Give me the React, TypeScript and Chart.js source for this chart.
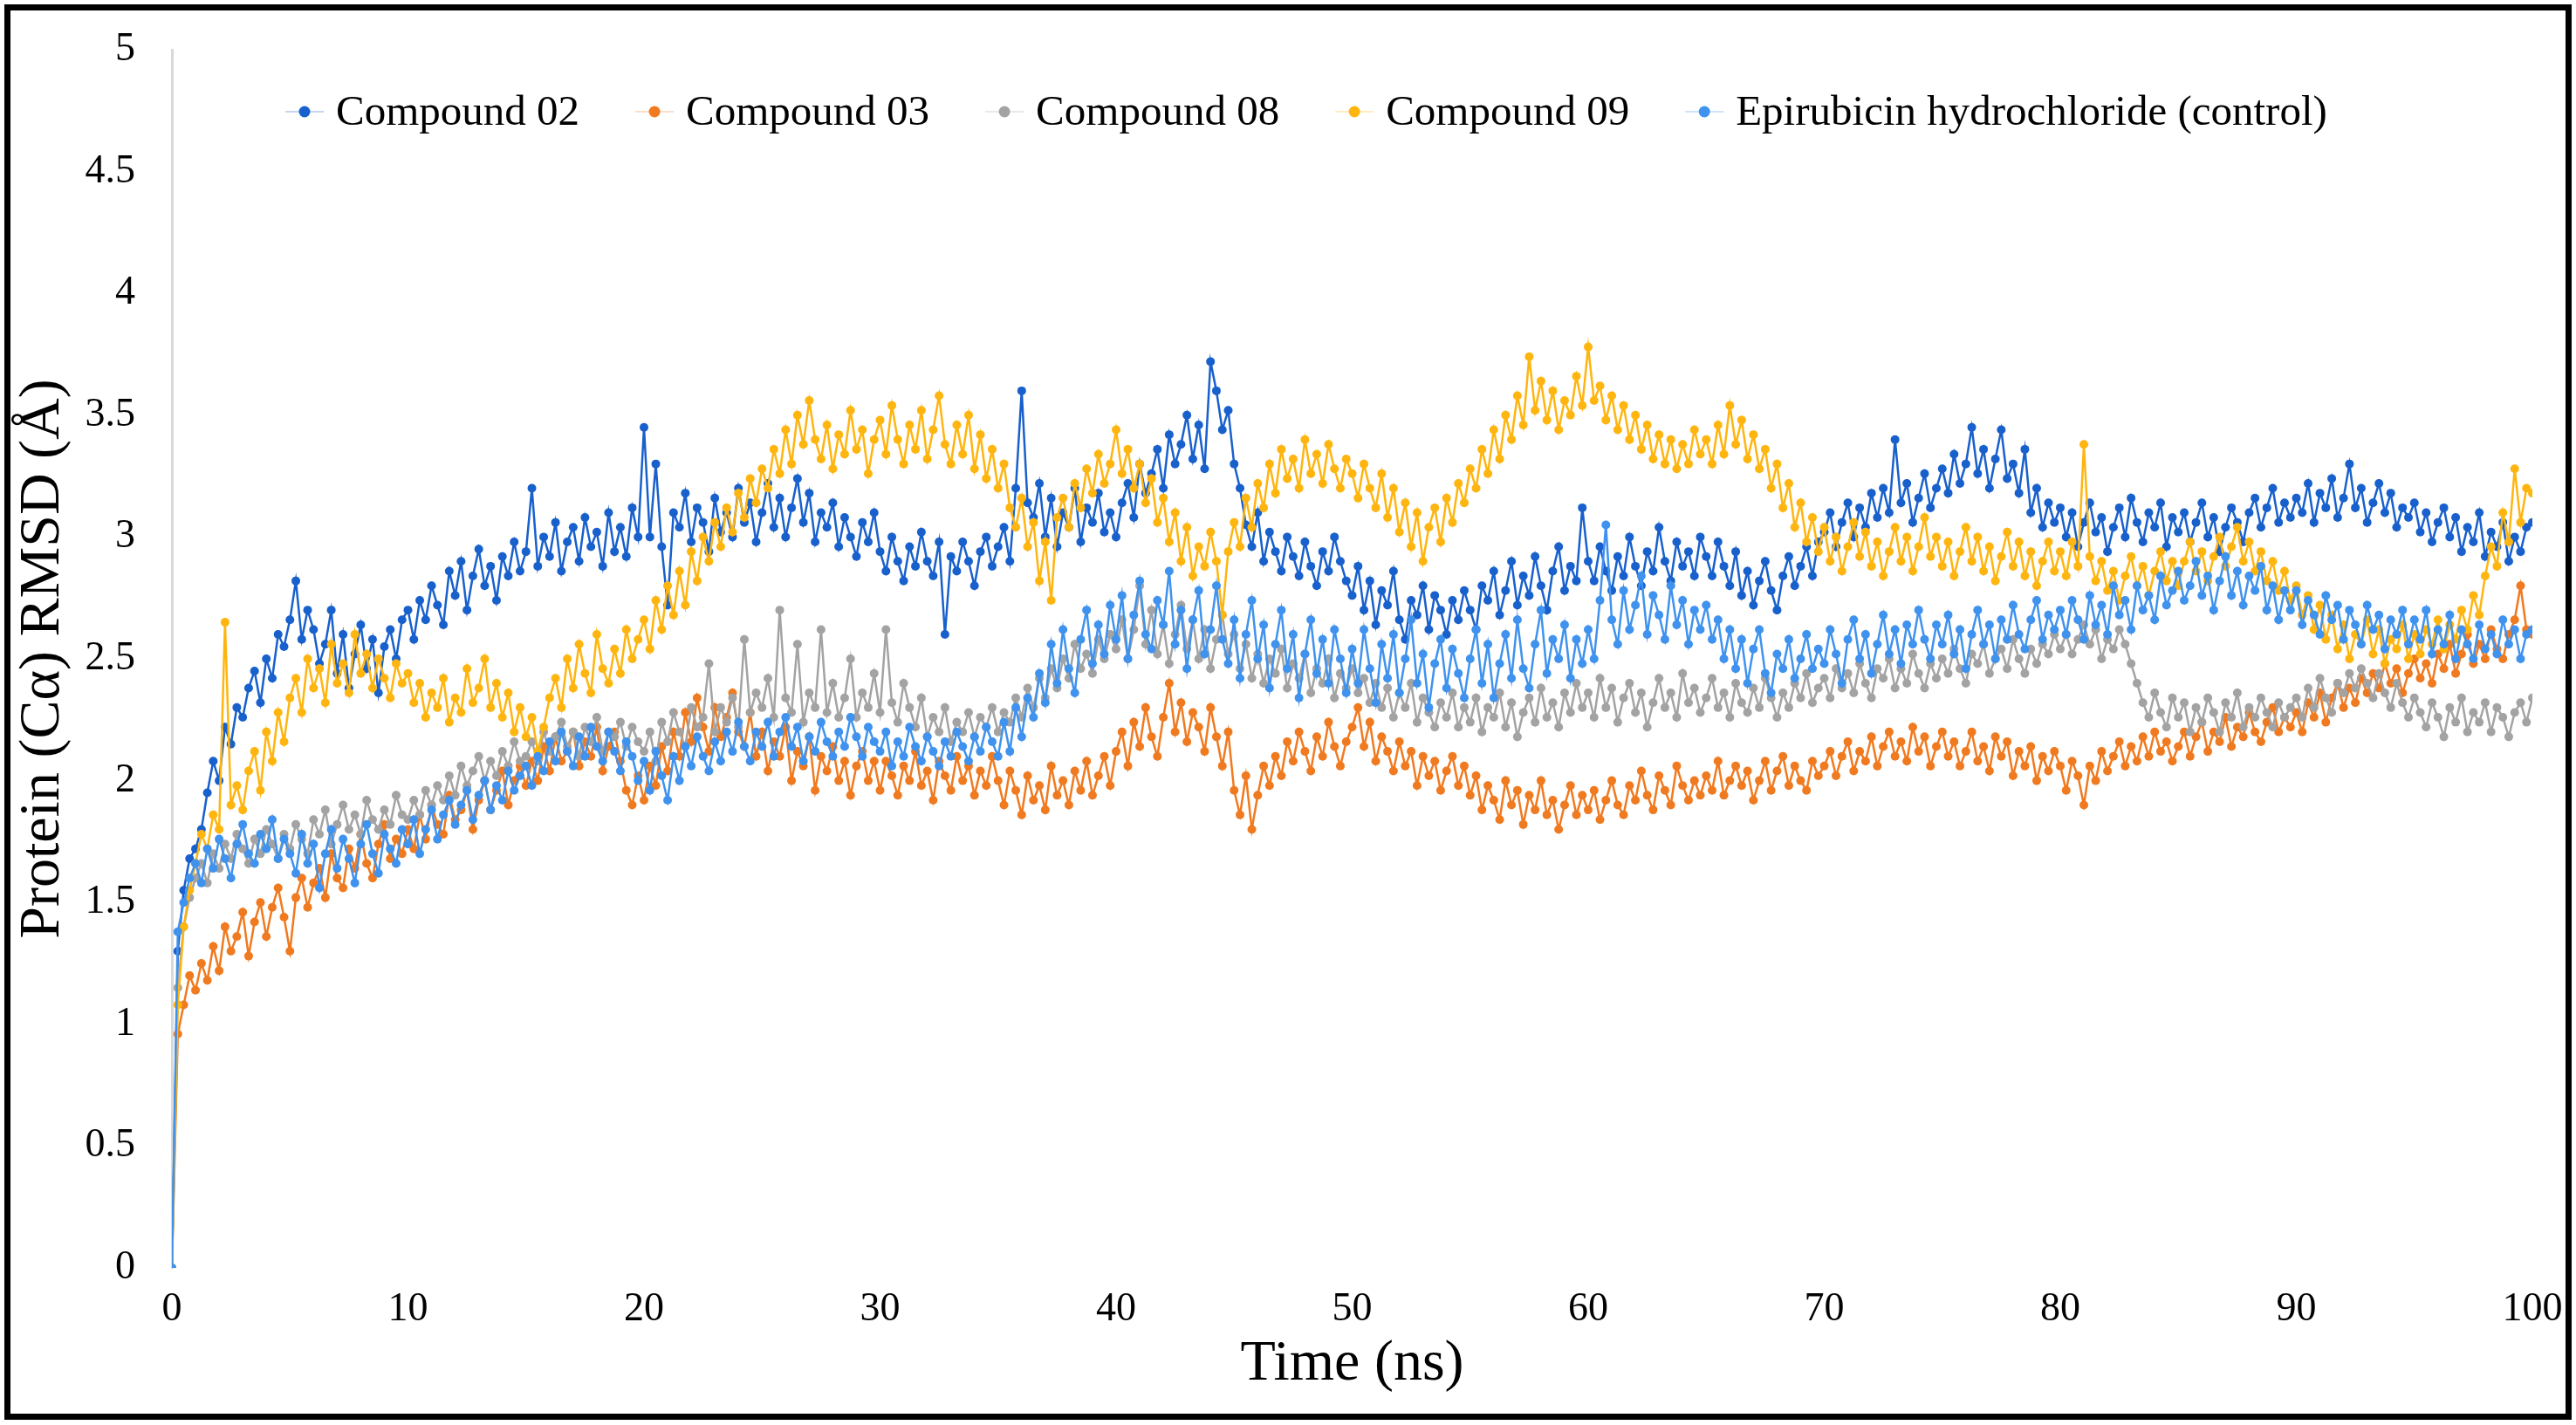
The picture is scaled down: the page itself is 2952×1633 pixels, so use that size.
import { useEffect, useRef } from "react"
import { Chart, registerables } from "chart.js"

Chart.register(...registerables)

// sampling times (ns), one frame every 0.25 ns
const TIME_NS = Array.from({ length: 401 }, (_, i) => i * 0.25)

const SERIES_NAMES = ["Compound 02", "Compound 03", "Compound 08", "Compound 09", "Epirubicin hydrochloride (control)"]
const SERIES_COLORS = ["#1860cc", "#f07a20", "#a3a3a3", "#ffb50f", "#3f92ee"]

// one row = 5 ns
const COMPOUND_02 = [
    0, 1.3, 1.55, 1.68, 1.72, 1.8, 1.95, 2.08, 2.0, 2.22, 2.15, 2.3, 2.26, 2.38, 2.45, 2.32, 2.5, 2.42, 2.6, 2.55,
    2.66, 2.82, 2.58, 2.7, 2.62, 2.48, 2.56, 2.7, 2.44, 2.6, 2.38, 2.52, 2.64, 2.46, 2.58, 2.36, 2.55, 2.62, 2.5, 2.66,
    2.7, 2.58, 2.74, 2.66, 2.8, 2.72, 2.64, 2.86, 2.76, 2.9, 2.7, 2.84, 2.95, 2.8, 2.88, 2.74, 2.92, 2.84, 2.98, 2.86,
    2.94, 3.2, 2.88, 3.0, 2.92, 3.06, 2.86, 2.98, 3.04, 2.9, 3.08, 2.96, 3.02, 2.88, 3.1, 2.94, 3.04, 2.92, 3.12, 3.0,
    3.45, 3.0, 3.3, 2.96, 2.72, 3.1, 3.04, 3.18, 2.98, 3.12, 3.06, 2.94, 3.16, 3.02, 3.1, 3.0, 3.2, 3.06, 3.14, 2.98,
    3.1, 3.22, 3.04, 3.16, 3.0, 3.12, 3.24, 3.06, 3.18, 2.98, 3.1, 3.04, 3.14, 2.96, 3.08, 3.0, 2.92, 3.06, 2.98, 3.1,
    2.94, 2.86, 3.0, 2.9, 2.82, 2.96, 2.88, 3.02, 2.9, 2.84, 2.98, 2.6, 2.92, 2.86, 2.98, 2.9, 2.8, 2.94, 3.0, 2.88,
    2.96, 3.04, 2.9, 3.2, 3.6, 3.14, 3.08, 3.22, 3.0, 3.16, 2.96, 3.1, 3.04, 3.2, 2.98, 3.12, 3.06, 3.18, 3.02, 3.1,
    3.0, 3.14, 3.22, 3.08, 3.3, 3.18, 3.26, 3.36, 3.2, 3.42, 3.3, 3.38, 3.5, 3.32, 3.46, 3.28, 3.72, 3.6, 3.44, 3.52,
    3.3, 3.2, 3.05, 2.96, 3.1, 2.9, 3.02, 2.94, 2.86, 3.0, 2.92, 2.84, 2.98, 2.88, 2.8, 2.94, 2.86, 3.0, 2.9, 2.82,
    2.76, 2.88, 2.7, 2.82, 2.64, 2.78, 2.72, 2.86, 2.66, 2.58, 2.74, 2.68, 2.8, 2.62, 2.76, 2.7, 2.6, 2.74, 2.66, 2.78,
    2.7, 2.62, 2.8, 2.74, 2.86, 2.68, 2.78, 2.9, 2.72, 2.84, 2.76, 2.92, 2.8, 2.7, 2.86, 2.96, 2.78, 2.88, 2.82, 3.12,
    2.9, 2.82, 2.96, 2.86, 2.78, 2.92, 2.84, 3.0, 2.88, 2.8, 2.94, 2.86, 3.04, 2.9, 2.82, 2.98, 2.88, 2.94, 2.84, 3.0,
    2.92, 2.84, 2.98, 2.88, 2.8, 2.94, 2.76, 2.86, 2.72, 2.82, 2.9, 2.78, 2.7, 2.84, 2.92, 2.8, 2.88, 2.96, 2.84, 2.98,
    3.02, 3.1, 2.96, 3.06, 3.14, 3.0, 3.12, 3.04, 3.18, 3.08, 3.2, 3.1, 3.4, 3.14, 3.22, 3.06, 3.16, 3.26, 3.12, 3.2,
    3.28, 3.18, 3.34, 3.22, 3.3, 3.45, 3.26, 3.36, 3.2, 3.32, 3.44, 3.24, 3.3, 3.18, 3.36, 3.1, 3.2, 3.04, 3.14, 3.06,
    3.12, 3.0, 3.1, 2.96, 3.06, 3.14, 3.02, 3.08, 2.94, 3.04, 3.12, 3.0, 3.16, 3.06, 2.98, 3.1, 3.04, 3.14, 2.96, 3.08,
    3.02, 3.1, 2.98, 3.06, 3.14, 3.0, 3.08, 2.94, 3.04, 3.12, 3.06, 2.98, 3.1, 3.16, 3.04, 3.12, 3.2, 3.06, 3.14, 3.08,
    3.16, 3.1, 3.22, 3.06, 3.18, 3.12, 3.24, 3.08, 3.16, 3.3, 3.12, 3.2, 3.06, 3.14, 3.22, 3.1, 3.18, 3.04, 3.12, 3.08,
    3.14, 3.02, 3.1, 2.98, 3.06, 3.12, 3.0, 3.08, 2.94, 3.04, 2.98, 3.1, 2.92, 3.02, 2.96, 3.06, 2.9, 3.0, 2.94, 3.04,
    3.06,
]

const COMPOUND_03 = [
    0, 0.96, 1.08, 1.2, 1.14, 1.25, 1.18, 1.32, 1.22, 1.4, 1.3, 1.36, 1.46, 1.28, 1.42, 1.5, 1.36, 1.48, 1.56, 1.44,
    1.3, 1.52, 1.6, 1.48, 1.58, 1.64, 1.52, 1.7, 1.6, 1.56, 1.72, 1.64, 1.78, 1.66, 1.6, 1.74, 1.82, 1.68, 1.76, 1.7,
    1.8, 1.72, 1.86, 1.76, 1.9, 1.82, 1.78, 1.94, 1.84, 1.88, 1.96, 1.8, 1.92, 2.0, 1.88, 1.96, 2.04, 1.9, 2.0, 2.06,
    1.98, 2.08, 2.0, 2.14, 2.04, 2.18, 2.08, 2.12, 2.2, 2.06, 2.16, 2.1, 2.22, 2.04, 2.14, 2.2, 2.08, 1.96, 1.9, 2.02,
    1.92, 2.06, 1.98, 2.14, 2.04, 2.2, 2.1, 2.28, 2.16, 2.34, 2.22, 2.12, 2.3, 2.18, 2.26, 2.36, 2.2, 2.14, 2.28, 2.1,
    2.2, 2.04, 2.16, 2.1, 2.22, 2.0, 2.12, 2.06, 2.18, 1.96, 2.1, 2.04, 2.14, 2.0, 2.08, 1.94, 2.06, 2.12, 2.0, 2.08,
    1.96, 2.08, 2.02, 1.94, 2.06, 2.0, 2.12, 1.98, 2.04, 1.92, 2.08, 2.02, 1.96, 2.1, 2.0, 2.06, 1.94, 2.04, 1.98, 2.1,
    2.0, 1.9, 2.04, 1.96, 1.86, 2.02, 1.92, 1.98, 1.88, 2.06, 1.94, 2.0, 1.9, 2.04, 1.96, 2.08, 1.94, 2.02, 2.1, 1.98,
    2.12, 2.2, 2.06, 2.24, 2.14, 2.3, 2.18, 2.1, 2.26, 2.4, 2.2, 2.32, 2.16, 2.28, 2.22, 2.12, 2.3, 2.18, 2.06, 2.2,
    1.96, 1.86, 2.02, 1.8, 1.94, 2.06, 1.98, 2.1, 2.02, 2.16, 2.08, 2.2, 2.12, 2.04, 2.18, 2.1, 2.24, 2.14, 2.06, 2.16,
    2.22, 2.3, 2.14, 2.24, 2.08, 2.18, 2.12, 2.04, 2.16, 2.06, 2.12, 1.98, 2.1, 2.02, 2.08, 1.96, 2.04, 2.1, 1.98, 2.06,
    1.94, 2.02, 1.88, 1.98, 1.92, 1.84, 2.0, 1.9, 1.96, 1.82, 1.94, 1.88, 2.0, 1.86, 1.92, 1.8, 1.9, 1.98, 1.86, 1.94,
    1.88, 1.96, 1.84, 1.92, 2.0, 1.9, 1.86, 1.98, 1.92, 2.04, 1.94, 1.88, 2.02, 1.96, 1.9, 2.06, 1.98, 1.92, 2.0, 1.94,
    2.02, 1.96, 2.08, 1.94, 2.0, 2.06, 1.98, 2.04, 1.92, 2.0, 2.08, 1.96, 2.04, 2.1, 1.98, 2.06, 2.0, 1.96, 2.08, 2.02,
    2.06, 2.12, 2.02, 2.1, 2.16, 2.04, 2.12, 2.08, 2.18, 2.06, 2.14, 2.2, 2.1, 2.16, 2.08, 2.22, 2.12, 2.18, 2.06, 2.14,
    2.2, 2.1, 2.16, 2.06, 2.12, 2.2, 2.08, 2.14, 2.04, 2.18, 2.1, 2.16, 2.02, 2.12, 2.06, 2.14, 2.0, 2.1, 2.04, 2.12,
    2.06, 1.96, 2.08, 2.02, 1.9, 2.06, 2.0, 2.12, 2.04, 2.1, 2.16, 2.06, 2.14, 2.08, 2.18, 2.1, 2.2, 2.12, 2.16, 2.08,
    2.14, 2.2, 2.1, 2.18, 2.24, 2.12, 2.2, 2.16, 2.26, 2.14, 2.22, 2.18, 2.28, 2.2, 2.16, 2.24, 2.3, 2.2, 2.26, 2.22,
    2.28, 2.2, 2.32, 2.26, 2.36, 2.24, 2.34, 2.4, 2.3, 2.38, 2.32, 2.42, 2.36, 2.44, 2.38, 2.48, 2.4, 2.46, 2.36, 2.44,
    2.5, 2.42, 2.48, 2.4, 2.52, 2.46, 2.56, 2.44, 2.52, 2.6, 2.48, 2.56, 2.5, 2.62, 2.54, 2.5, 2.6, 2.66, 2.8, 2.62,
    2.6,
]

const COMPOUND_08 = [
    0, 1.15, 1.4, 1.52, 1.6, 1.66, 1.58, 1.7, 1.64, 1.74, 1.68, 1.78, 1.72, 1.66, 1.76, 1.7, 1.8, 1.74, 1.68, 1.78,
    1.72, 1.82, 1.76, 1.7, 1.84, 1.78, 1.88, 1.74, 1.82, 1.9, 1.8, 1.86, 1.78, 1.92, 1.84, 1.8, 1.88, 1.82, 1.94, 1.86,
    1.84, 1.92, 1.86, 1.96, 1.9, 1.98, 1.92, 2.02, 1.94, 2.06, 1.98, 2.04, 2.1, 2.0, 2.08, 2.02, 2.12, 2.06, 2.16, 2.08,
    2.1, 2.16, 2.08, 2.2, 2.12, 2.18, 2.24, 2.14, 2.2, 2.1, 2.22, 2.16, 2.26, 2.12, 2.2, 2.18, 2.24, 2.14, 2.22, 2.16,
    2.12, 2.2, 2.08, 2.24, 2.16, 2.28, 2.2, 2.14, 2.3, 2.22, 2.26, 2.48, 2.2, 2.3, 2.24, 2.34, 2.22, 2.58, 2.28, 2.36,
    2.3, 2.42, 2.26, 2.7, 2.34, 2.28, 2.56, 2.24, 2.36, 2.3, 2.62, 2.28, 2.4, 2.26, 2.34, 2.5, 2.26, 2.36, 2.3, 2.44,
    2.28, 2.62, 2.32, 2.24, 2.4, 2.3, 2.22, 2.34, 2.18, 2.26, 2.2, 2.3, 2.16, 2.24, 2.2, 2.28, 2.18, 2.26, 2.22, 2.3,
    2.2, 2.28, 2.24, 2.34, 2.26, 2.38, 2.3, 2.42, 2.34, 2.46, 2.38, 2.5, 2.42, 2.56, 2.46, 2.52, 2.44, 2.58, 2.5, 2.6,
    2.54, 2.66, 2.5, 2.62, 2.8, 2.56, 2.7, 2.52, 2.64, 2.48, 2.6, 2.72, 2.54, 2.66, 2.5, 2.62, 2.46, 2.58, 2.68, 2.52,
    2.6, 2.46, 2.56, 2.42, 2.52, 2.4, 2.5, 2.44, 2.54, 2.38, 2.48, 2.42, 2.52, 2.36, 2.46, 2.4, 2.5, 2.34, 2.44, 2.38,
    2.46, 2.36, 2.42, 2.32, 2.4, 2.3, 2.38, 2.26, 2.36, 2.3, 2.4, 2.24, 2.34, 2.28, 2.22, 2.32, 2.26, 2.36, 2.22, 2.3,
    2.24, 2.34, 2.2, 2.3, 2.26, 2.36, 2.22, 2.32, 2.18, 2.28, 2.34, 2.24, 2.38, 2.26, 2.32, 2.22, 2.36, 2.28, 2.4, 2.3,
    2.36, 2.26, 2.42, 2.3, 2.38, 2.24, 2.34, 2.4, 2.28, 2.36, 2.22, 2.32, 2.42, 2.3, 2.36, 2.26, 2.44, 2.32, 2.38, 2.28,
    2.34, 2.42, 2.3, 2.36, 2.26, 2.4, 2.32, 2.28, 2.38, 2.3, 2.42, 2.34, 2.26, 2.36, 2.3, 2.4, 2.34, 2.44, 2.32, 2.38,
    2.42, 2.34, 2.46, 2.38, 2.44, 2.36, 2.48, 2.4, 2.34, 2.46, 2.42, 2.5, 2.38, 2.46, 2.4, 2.52, 2.44, 2.38, 2.48, 2.42,
    2.5, 2.44, 2.54, 2.46, 2.4, 2.52, 2.48, 2.56, 2.44, 2.5, 2.54, 2.46, 2.58, 2.5, 2.44, 2.54, 2.48, 2.56, 2.52, 2.6,
    2.54, 2.6, 2.52, 2.58, 2.64, 2.56, 2.62, 2.5, 2.58, 2.54, 2.62, 2.56, 2.48, 2.4, 2.32, 2.26, 2.36, 2.28, 2.22, 2.34,
    2.26, 2.32, 2.2, 2.3, 2.24, 2.34, 2.28, 2.2, 2.32, 2.26, 2.36, 2.22, 2.3, 2.26, 2.34, 2.28, 2.22, 2.32, 2.26, 2.3,
    2.34, 2.26, 2.38, 2.3, 2.42, 2.34, 2.28, 2.4, 2.36, 2.44, 2.38, 2.46, 2.4, 2.34, 2.44, 2.36, 2.3, 2.4, 2.32, 2.26,
    2.34, 2.28, 2.22, 2.32, 2.26, 2.18, 2.3, 2.24, 2.34, 2.2, 2.28, 2.24, 2.32, 2.2, 2.3, 2.26, 2.18, 2.28, 2.32, 2.24,
    2.34,
]

const COMPOUND_09 = [
    0, 1.08, 1.4, 1.55, 1.66, 1.78, 1.72, 1.86, 1.8, 2.65, 1.9, 1.98, 1.88, 2.04, 2.12, 1.96, 2.2, 2.08, 2.28, 2.16,
    2.34, 2.42, 2.28, 2.5, 2.38, 2.46, 2.32, 2.56, 2.4, 2.48, 2.36, 2.6, 2.44, 2.52, 2.38, 2.5, 2.42, 2.34, 2.48, 2.4,
    2.44, 2.32, 2.4, 2.26, 2.36, 2.3, 2.42, 2.24, 2.34, 2.28, 2.46, 2.32, 2.38, 2.5, 2.3, 2.4, 2.26, 2.36, 2.2, 2.3,
    2.18, 2.26, 2.12, 2.22, 2.34, 2.42, 2.3, 2.5, 2.38, 2.56, 2.44, 2.36, 2.6, 2.46, 2.4, 2.54, 2.44, 2.62, 2.5, 2.58,
    2.66, 2.54, 2.74, 2.62, 2.8, 2.68, 2.86, 2.72, 2.94, 2.82, 3.0, 2.9, 3.06, 2.96, 3.12, 3.02, 3.18, 3.08, 3.24, 3.14,
    3.28, 3.2, 3.36, 3.26, 3.44, 3.3, 3.5, 3.38, 3.56, 3.4, 3.32, 3.46, 3.28, 3.42, 3.34, 3.52, 3.36, 3.44, 3.26, 3.4,
    3.48, 3.34, 3.54, 3.4, 3.3, 3.46, 3.36, 3.52, 3.32, 3.44, 3.58, 3.38, 3.3, 3.46, 3.34, 3.5, 3.28, 3.42, 3.24, 3.36,
    3.2, 3.3, 3.12, 3.04, 3.16, 2.96, 3.06, 2.82, 2.98, 2.74, 3.08, 3.16, 3.04, 3.22, 3.12, 3.28, 3.18, 3.34, 3.22, 3.3,
    3.44, 3.26, 3.36, 3.2, 3.3, 3.14, 3.24, 3.06, 3.16, 2.98, 3.1, 2.9, 3.04, 2.84, 2.96, 2.88, 3.02, 2.9, 2.68, 2.94,
    3.06, 2.96, 3.16, 3.04, 3.22, 3.12, 3.3, 3.18, 3.36, 3.24, 3.32, 3.2, 3.4, 3.26, 3.34, 3.22, 3.38, 3.28, 3.2, 3.32,
    3.26, 3.16, 3.3, 3.2, 3.12, 3.26, 3.08, 3.2, 3.02, 3.14, 2.96, 3.1, 2.9, 3.04, 3.12, 2.98, 3.16, 3.06, 3.22, 3.14,
    3.28, 3.2, 3.36, 3.26, 3.44, 3.32, 3.5, 3.4, 3.58, 3.46, 3.74, 3.52, 3.64, 3.48, 3.6, 3.44, 3.56, 3.5, 3.66, 3.54,
    3.78, 3.56, 3.62, 3.48, 3.58, 3.44, 3.54, 3.4, 3.5, 3.36, 3.46, 3.32, 3.42, 3.3, 3.4, 3.28, 3.38, 3.3, 3.44, 3.34,
    3.4, 3.3, 3.46, 3.34, 3.54, 3.38, 3.48, 3.32, 3.42, 3.28, 3.36, 3.2, 3.3, 3.12, 3.22, 3.04, 3.14, 2.98, 3.08, 2.94,
    3.04, 2.9, 3.0, 2.86, 2.96, 3.06, 2.92, 3.02, 2.88, 2.98, 2.84, 2.94, 3.04, 2.9, 3.0, 2.86, 2.96, 3.08, 2.92, 3.0,
    2.88, 2.98, 2.84, 2.94, 3.04, 2.9, 3.0, 2.86, 2.96, 2.82, 2.92, 3.02, 2.88, 2.98, 2.84, 2.94, 2.8, 2.9, 2.98, 2.86,
    2.94, 2.84, 2.98, 2.88, 3.38, 2.92, 2.82, 2.9, 2.78, 2.86, 2.74, 2.84, 2.92, 2.8, 2.88, 2.76, 2.86, 2.94, 2.82, 2.9,
    2.8, 2.9, 2.98, 2.86, 2.94, 2.82, 2.92, 3.0, 2.88, 2.96, 3.04, 2.9, 2.98, 2.86, 2.94, 2.82, 2.9, 2.78, 2.86, 2.74,
    2.8, 2.68, 2.76, 2.62, 2.72, 2.58, 2.68, 2.54, 2.64, 2.5, 2.6, 2.56, 2.66, 2.52, 2.62, 2.48, 2.58, 2.54, 2.64, 2.5,
    2.6, 2.52, 2.62, 2.56, 2.66, 2.54, 2.64, 2.58, 2.7, 2.62, 2.76, 2.68, 2.84, 2.96, 2.88, 3.1, 2.98, 3.28, 3.06, 3.2,
    3.18,
]

const EPIRUBICIN = [
    0, 1.38, 1.5, 1.6, 1.66, 1.58, 1.72, 1.64, 1.76, 1.68, 1.6, 1.74, 1.82, 1.7, 1.66, 1.78, 1.72, 1.84, 1.68, 1.76,
    1.7, 1.62, 1.78, 1.66, 1.74, 1.56, 1.7, 1.8, 1.64, 1.76, 1.68, 1.58, 1.74, 1.82, 1.7, 1.62, 1.78, 1.72, 1.66, 1.8,
    1.74, 1.84, 1.7, 1.8, 1.88, 1.76, 1.86, 1.92, 1.82, 1.9, 1.96, 1.84, 1.94, 2.0, 1.88, 1.98, 1.92, 2.04, 1.96, 2.02,
    2.06, 1.98, 2.1, 2.04, 2.16, 2.08, 2.2, 2.12, 2.06, 2.18, 2.1, 2.22, 2.14, 2.08, 2.2, 2.12, 2.04, 2.16, 2.1, 2.0,
    2.08, 1.96, 2.12, 2.02, 1.92, 2.1, 2.0, 2.14, 2.06, 2.18, 2.1, 2.04, 2.16, 2.08, 2.2, 2.12, 2.24, 2.14, 2.08, 2.2,
    2.14, 2.24, 2.1, 2.2, 2.26, 2.14, 2.22, 2.08, 2.18, 2.12, 2.24, 2.16, 2.1, 2.2, 2.14, 2.26, 2.18, 2.1, 2.22, 2.16,
    2.12, 2.2, 2.06, 2.16, 2.1, 2.22, 2.14, 2.08, 2.18, 2.12, 2.06, 2.16, 2.1, 2.2, 2.14, 2.08, 2.18, 2.12, 2.22, 2.16,
    2.1, 2.24, 2.12, 2.3, 2.18, 2.34, 2.26, 2.44, 2.32, 2.56, 2.4, 2.62, 2.46, 2.36, 2.58, 2.7, 2.48, 2.64, 2.52, 2.72,
    2.58, 2.76, 2.5, 2.68, 2.82, 2.6, 2.54, 2.74, 2.64, 2.86, 2.56, 2.7, 2.46, 2.66, 2.78, 2.52, 2.62, 2.8, 2.58, 2.48,
    2.66, 2.42, 2.6, 2.74, 2.5, 2.64, 2.38, 2.56, 2.7, 2.46, 2.6, 2.34, 2.52, 2.66, 2.44, 2.58, 2.4, 2.62, 2.5, 2.36,
    2.54, 2.4, 2.62, 2.46, 2.32, 2.56, 2.42, 2.6, 2.36, 2.5, 2.66, 2.4, 2.52, 2.3, 2.48, 2.58, 2.38, 2.54, 2.44, 2.34,
    2.5, 2.62, 2.4, 2.56, 2.34, 2.48, 2.6, 2.42, 2.66, 2.46, 2.38, 2.56, 2.7, 2.44, 2.58, 2.5, 2.64, 2.42, 2.58, 2.48,
    2.62, 2.5, 2.74, 3.05, 2.66, 2.56, 2.78, 2.62, 2.72, 2.84, 2.6, 2.76, 2.68, 2.58, 2.8, 2.64, 2.74, 2.56, 2.7, 2.62,
    2.72, 2.58, 2.66, 2.5, 2.62, 2.46, 2.58, 2.4, 2.54, 2.62, 2.44, 2.36, 2.52, 2.46, 2.58, 2.42, 2.5, 2.6, 2.46, 2.54,
    2.48, 2.62, 2.52, 2.4, 2.58, 2.66, 2.5, 2.6, 2.44, 2.56, 2.68, 2.52, 2.62, 2.48, 2.64, 2.56, 2.7, 2.58, 2.5, 2.64,
    2.56, 2.68, 2.52, 2.62, 2.46, 2.6, 2.7, 2.56, 2.64, 2.5, 2.66, 2.58, 2.72, 2.6, 2.54, 2.66, 2.74, 2.58, 2.68, 2.62,
    2.7, 2.6, 2.74, 2.66, 2.58, 2.76, 2.64, 2.72, 2.6, 2.8, 2.68, 2.74, 2.62, 2.8, 2.7, 2.76, 2.66, 2.84, 2.72, 2.78,
    2.86, 2.74, 2.8, 2.9, 2.76, 2.84, 2.7, 2.82, 2.92, 2.76, 2.86, 2.72, 2.84, 2.78, 2.88, 2.7, 2.8, 2.66, 2.78, 2.7,
    2.78, 2.64, 2.74, 2.68, 2.6, 2.76, 2.66, 2.72, 2.58, 2.7, 2.64, 2.56, 2.72, 2.62, 2.68, 2.54, 2.66, 2.6, 2.7, 2.56,
    2.66, 2.58, 2.7, 2.52, 2.62, 2.56, 2.68, 2.5, 2.62, 2.56, 2.5, 2.64, 2.54, 2.6, 2.52, 2.66, 2.56, 2.62, 2.5, 2.6,
    2.62,
]

const SERIES_VALUES = [COMPOUND_02, COMPOUND_03, COMPOUND_08, COMPOUND_09, EPIRUBICIN]

const FONT = "\"Liberation Serif\", \"Times New Roman\", serif"

// legend drawn inside the plot, Excel style (dot on a faint line)
const insideLegend = {
    id: "insideLegend",
    afterDraw(chart: any) {
        const ctx = chart.ctx
        ctx.save()
        ctx.font = `49px ${FONT}`
        ctx.textBaseline = "middle"
        let x = 349
        const y = 128
        chart.data.datasets.forEach((ds: any) => {
            ctx.globalAlpha = 0.25
            ctx.strokeStyle = ds.borderColor
            ctx.lineWidth = 2
            ctx.beginPath()
            ctx.moveTo(x - 22, y)
            ctx.lineTo(x + 22, y)
            ctx.stroke()
            ctx.globalAlpha = 1
            ctx.fillStyle = ds.borderColor
            ctx.beginPath()
            ctx.arc(x, y, 6.5, 0, Math.PI * 2)
            ctx.fill()
            ctx.fillStyle = "#000"
            ctx.fillText(ds.label, x + 36, y + 2)
            x += 36 + ctx.measureText(ds.label).width + 86
        })
        ctx.restore()
    }
}

const RmsdChart = () => {
    const canvasRef = useRef<HTMLCanvasElement>(null)
    useEffect(() => {
        let chart: Chart | null = null
        let cancelled = false
        const build = () => {
            if (cancelled || !canvasRef.current)
                return
            chart = new Chart(canvasRef.current, {
                type: "line",
                data: {
                    datasets: SERIES_NAMES.map((name, s) => ({
                        label: name,
                        data: SERIES_VALUES[s].map((v, i) => ({ x: TIME_NS[i], y: v })),
                        borderColor: SERIES_COLORS[s],
                        backgroundColor: SERIES_COLORS[s],
                        borderWidth: 2.5,
                        pointRadius: 5,
                        pointBorderWidth: 0,
                        pointBackgroundColor: SERIES_COLORS[s],
                        tension: 0,
                        order: SERIES_NAMES.length - s,
                    }))
                },
                options: {
                    animation: false,
                    responsive: false,
                    devicePixelRatio: 1,
                    layout: {
                        padding: { left: 0, right: 50, top: 57, bottom: 0 }
                    },
                    plugins: {
                        legend: { display: false },
                        tooltip: { enabled: false },
                    },
                    scales: {
                        x: {
                            type: "linear",
                            min: 0,
                            max: 100,
                            afterFit: (scale: any) => {
                                scale.height = 180
                                scale.paddingRight = 0
                            },
                            grid: { display: false, drawTicks: false },
                            border: { display: false },
                            ticks: {
                                stepSize: 10,
                                padding: 20,
                                color: "#000",
                                font: { family: FONT, size: 46 },
                                callback: (v: any) => String(v),
                            },
                            title: {
                                display: true,
                                text: "Time (ns)",
                                color: "#000",
                                font: { family: FONT, size: 66 },
                                padding: { top: 0, bottom: 30 },
                            }
                        },
                        y: {
                            min: 0,
                            max: 5,
                            afterFit: (scale: any) => {
                                scale.width = 197
                                scale.paddingTop = 20
                                scale.paddingBottom = 20
                            },
                            grid: { display: false, drawTicks: false },
                            border: { display: true, color: "#d9d9d9", width: 3 },
                            ticks: {
                                stepSize: 0.5,
                                padding: 42,
                                color: "#000",
                                font: { family: FONT, size: 46 },
                                callback: (v: any) => String(v),
                            },
                            title: {
                                display: true,
                                text: "Protein (Cα) RMSD (Å)",
                                color: "#000",
                                font: { family: FONT, size: 66 },
                                padding: { top: 10, bottom: 0 },
                            }
                        }
                    }
                },
                plugins: [insideLegend]
            })
        }
        document.fonts.load("48px \"Liberation Serif\"").then(build, build)
        return () => {
            cancelled = true
            chart?.destroy()
        }
    }, [])
    return <canvas ref={canvasRef} width={2952} height={1633} style={{ position: "absolute", left: 0, top: 0 }}></canvas>
}

export default function App() {
    return <div style={{ position: "absolute", left: 0, top: 0, width: 2952, height: 1633, background: "#fff" }}>
        <span style={{ fontFamily: "Liberation Serif", position: "absolute", visibility: "hidden" }}>.</span>
        <RmsdChart />
        <div style={{ position: "absolute", left: 5, top: 5, width: 2942, height: 1622, border: "7px solid #000", boxSizing: "border-box", pointerEvents: "none" }}></div>
    </div>
}
